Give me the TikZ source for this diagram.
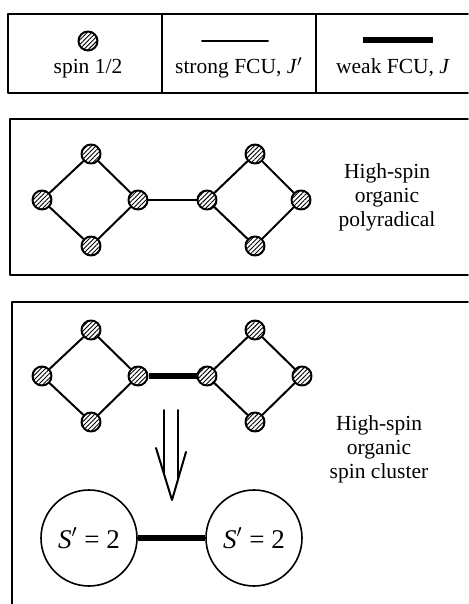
\documentclass[tikz,border=0pt]{standalone}
\usepackage{fontspec}
\setmainfont{Liberation Serif}
\usetikzlibrary{calc,patterns.meta}

\tikzset{
  spin/.style={circle,draw,line width=1pt,minimum size=9.5pt,inner sep=0pt,
    fill=white,pattern={Lines[angle=45,distance=1.6pt,line width=0.45pt]}},
  fcu/.style={line width=1pt},
  weakfcu/.style={line width=3.2pt},
  frame/.style={line width=0.8pt},
  lbl/.style={font=\fontsize{10.75}{12}\selectfont,align=center,inner sep=0pt},
  cluster/.style={circle,draw,line width=0.8pt,minimum size=48pt,inner sep=0pt,
    font=\fontsize{13.5}{16}\selectfont}
}

\begin{document}
\begin{tikzpicture}[x=0.5pt,y=-0.5pt,line cap=round,line join=round]
\useasboundingbox (0,0) rectangle (468,604);

% frames
\draw[frame] (468,14) -- (8,14) -- (8,93) -- (468,93);
\draw[frame] (162,14) -- (162,93);
\draw[frame] (316,14) -- (316,93);
\draw[frame] (468,119) -- (10,119) -- (10,275) -- (468,275);
\draw[frame] (468,302) -- (12,302) -- (12,604);

% legend
\node[spin] (key) at (88,41) {};
\node[lbl,anchor=base] (keytxt) at (88,74) {spin 1/2};
\coordinate (sa) at (202,41);
\coordinate (sb) at (268,41);
\draw[fcu] (sa) -- (sb);
\node[lbl,anchor=base] (strongtxt) at (239,74) {strong FCU, \textit{J}$'$};
\coordinate (wa) at (363,40);
\coordinate (wb) at (433,40);
\draw[weakfcu,line cap=butt] (wa) -- (wb);
\node[lbl,anchor=base] (weaktxt) at (393,74) {weak FCU, \textit{J}};

% polyradical
\node[spin] (p1) at (42,200) {};
\node[spin] (p2) at (91,154) {};
\node[spin] (p3) at (138,200) {};
\node[spin] (p4) at (91,246) {};
\node[spin] (p5) at (207,200) {};
\node[spin] (p6) at (255,154) {};
\node[spin] (p7) at (301,200) {};
\node[spin] (p8) at (255,246) {};
\draw[fcu] (p1) -- (p2) -- (p3) -- (p4) -- (p1);
\draw[fcu] (p5) -- (p6) -- (p7) -- (p8) -- (p5);
\draw[fcu] (p3) -- (p5);
\node[lbl] (polytxt) at (387,197) {High-spin\\organic\\polyradical};

% spin cluster
\node[spin] (c1) at (42,376) {};
\node[spin] (c2) at (91,330) {};
\node[spin] (c3) at (138,376) {};
\node[spin] (c4) at (91,422) {};
\node[spin] (c5) at (207,376) {};
\node[spin] (c6) at (255,330) {};
\node[spin] (c7) at (302,376) {};
\node[spin] (c8) at (255,422) {};
\draw[fcu] (c1) -- (c2) -- (c3) -- (c4) -- (c1);
\draw[fcu] (c5) -- (c6) -- (c7) -- (c8) -- (c5);
\draw[weakfcu,line cap=butt] (c3) -- (c5);

\coordinate (arrtop) at (171,410);
\coordinate (arrtip) at (172,500);
\draw[fcu] ($(arrtop)+(-7,0)$) -- (164,474);
\draw[fcu] ($(arrtop)+(7,0)$) -- (178,479);
\draw[fcu] (156,448) -- (arrtip) -- (186,452);

\node[cluster] (sl) at (89,538) {\textit{S}$'$ = 2};
\node[cluster] (sr) at (254,538) {\textit{S}$'$ = 2};
\draw[weakfcu,line cap=butt] (sl) -- (sr);
\node[lbl] (clustertxt) at (379,449) {High-spin\\organic\\spin cluster};
\end{tikzpicture}
\end{document}
